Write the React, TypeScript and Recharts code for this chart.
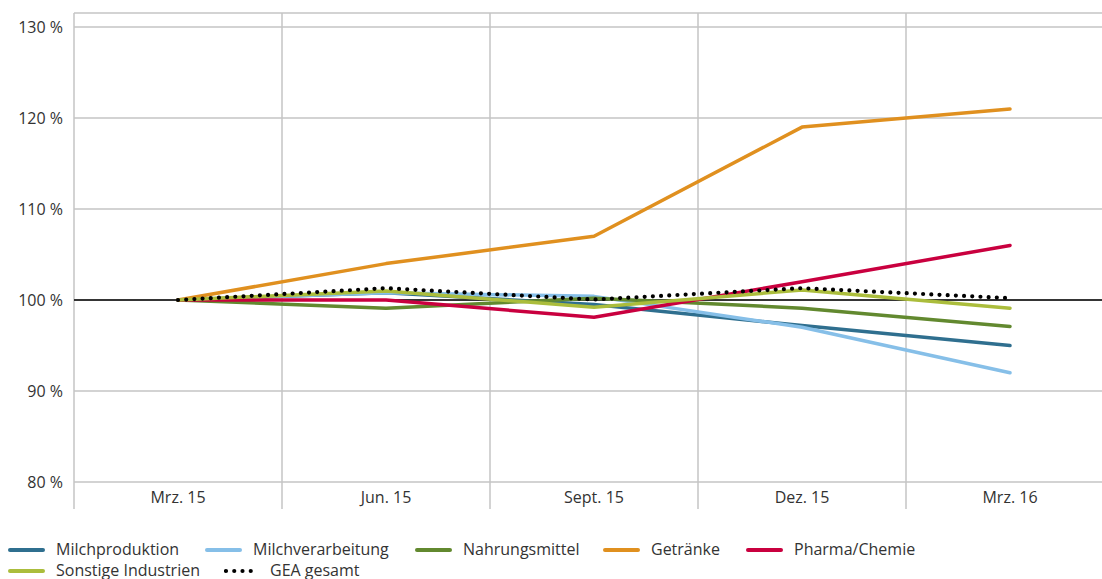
import React from "react";
import { LineChart, Line, XAxis, YAxis, CartesianGrid, ReferenceLine } from "recharts";

const categories = ["Mrz. 15", "Jun. 15", "Sept. 15", "Dez. 15", "Mrz. 16"];
const milchproduktion = [100, 100.8, 99.5, 97.2, 95];
const milchverarbeitung = [100, 100.8, 100.4, 97, 92];
const nahrungsmittel = [100, 99.1, 100.2, 99.1, 97.1];
const getraenke = [100, 104, 107, 119, 121];
const pharmaChemie = [100, 100, 98.1, 102, 106];
const sonstigeIndustrien = [100, 101, 99.2, 101.1, 99.1];
const geaGesamt = [100, 101.3, 100.05, 101.3, 100.2];
const yTicks = [80, 90, 100, 110, 120, 130];

const series = [
  { key: "milchproduktion", name: "Milchproduktion", values: milchproduktion, color: "#2f6f8f" },
  { key: "milchverarbeitung", name: "Milchverarbeitung", values: milchverarbeitung, color: "#86bfe8" },
  { key: "nahrungsmittel", name: "Nahrungsmittel", values: nahrungsmittel, color: "#62892f" },
  { key: "getraenke", name: "Getränke", values: getraenke, color: "#e0901f" },
  { key: "pharma", name: "Pharma/Chemie", values: pharmaChemie, color: "#c9003f" },
  { key: "sonstige", name: "Sonstige Industrien", values: sonstigeIndustrien, color: "#abbd3c" },
  { key: "gea", name: "GEA gesamt", values: geaGesamt, color: "#000000", dotted: true },
];

const legendRow1Widths = [197, 210, 188, 143, 200];
const legendRow2Widths = [216, 200];

const data = categories.map((c, i) => {
  const row: Record<string, number | string> = { i, label: c };
  series.forEach((s) => (row[s.key] = s.values[i]));
  return row;
});

const FONT = "'Open Sans', 'Noto Sans', sans-serif";
const TOP = 131.54;
const BOTTOM_EXT = 77.03;
const gridColor = "#c4c4c4";

const boundaries = [-0.5, 0.5, 1.5, 2.5, 3.5];

function LegendItem({ s, w }: { s: (typeof series)[number]; w: number }) {
  return (
    <div style={{ display: "flex", alignItems: "center", width: w, height: 21, flex: "none" }}>
      <svg width={37} height={8} style={{ marginRight: s.dotted ? 9 : 11 }}>
        {s.dotted ? (
          <line x1={2} y1={4} x2={35} y2={4} stroke="#000" strokeWidth={4.2} strokeDasharray="0 8.25" strokeLinecap="round" />
        ) : (
          <line x1={2} y1={4} x2={35} y2={4} stroke={s.color} strokeWidth={4} strokeLinecap="round" />
        )}
      </svg>
      <span style={{ fontSize: 16, color: "#333", fontFamily: FONT, lineHeight: "21px", whiteSpace: "nowrap" }}>{s.name}</span>
    </div>
  );
}

export default function App() {
  return (
    <div style={{ position: "absolute", left: 0, top: 0, width: 1102, height: 579, overflow: "hidden", background: "#fff" }}>
      <LineChart
        width={1130}
        height={520}
        data={data}
        margin={{ top: 13, right: 16, bottom: 11, left: 0 }}
      >
        <CartesianGrid vertical={false} stroke={gridColor} strokeWidth={1.5} />
        <XAxis
          dataKey="i"
          type="number"
          domain={[-0.5, 4.5]}
          ticks={[0, 1, 2, 3, 4]}
          tickFormatter={(v: number) => categories[v]}
          axisLine={false}
          tickLine={false}
          tickSize={7}
          tickMargin={3}
          height={27}
          interval={0}
          tick={{ fill: "#333", fontSize: 16, fontFamily: FONT }}
        />
        <YAxis
          type="number"
          domain={[80, TOP]}
          ticks={yTicks}
          allowDataOverflow
          tickFormatter={(v: number) => `${v} %`}
          axisLine={false}
          tickLine={false}
          tickSize={8}
          tickMargin={3}
          width={74}
          tick={{ fill: "#333", fontSize: 16, fontFamily: FONT }}
        />
        {boundaries.map((b) => (
          <ReferenceLine
            key={b}
            segment={[{ x: b, y: TOP }, { x: b, y: BOTTOM_EXT }]}
            stroke={gridColor}
            strokeWidth={1.5}
            ifOverflow="visible"
          />
        ))}
        <ReferenceLine y={100} stroke="#000" strokeWidth={1.5} />
        {series.map((s) => (
          <Line
            key={s.key}
            dataKey={s.key}
            name={s.name}
            stroke={s.color}
            strokeWidth={s.dotted ? 4.2 : 3.5}
            strokeDasharray={s.dotted ? "0 8.2" : undefined}
            strokeLinecap="round"
            strokeLinejoin="round"
            dot={false}
            activeDot={false}
            isAnimationActive={false}
          />
        ))}
      </LineChart>
      <div style={{ position: "absolute", left: 8, top: 539, width: 1090 }}>
        <div style={{ display: "flex" }}>
          {series.slice(0, 5).map((s, i) => (
            <LegendItem key={s.key} s={s} w={legendRow1Widths[i]} />
          ))}
        </div>
        <div style={{ display: "flex" }}>
          {series.slice(5).map((s, i) => (
            <LegendItem key={s.key} s={s} w={legendRow2Widths[i]} />
          ))}
        </div>
      </div>
    </div>
  );
}
